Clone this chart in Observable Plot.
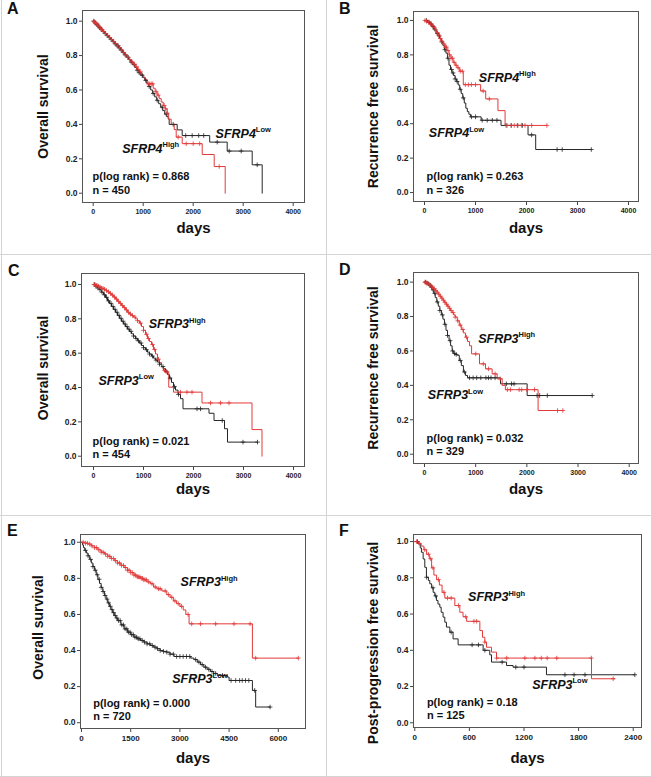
<!DOCTYPE html>
<html><head><meta charset="utf-8">
<script src="https://cdn.jsdelivr.net/npm/d3@7"></script>
<script src="https://cdn.jsdelivr.net/npm/@observablehq/plot@0.6"></script>
<style>
html,body{margin:0;padding:0;background:#fff;}
#fig{position:relative;width:652px;height:777px;font-family:"Liberation Sans",Arial,sans-serif;overflow:hidden;background:#fff;}
.panel{position:absolute;}
.letter{position:absolute;font-weight:bold;font-size:16px;line-height:1;color:#111;}
.rule{position:absolute;background:#d4d4d4;}
</style></head><body><div id="fig"></div>
<script>
// ---------- DATA ----------
const yTicks = [0, 0.2, 0.4, 0.6, 0.8, 1.0];
const xTicksAD = [0, 1000, 2000, 3000, 4000];
const xTicksE = [0, 1500, 3000, 4500, 6000];
const xTicksF = [0, 600, 1200, 1800, 2400];
const panelLetters = ["A", "B", "C", "D", "E", "F"];
const yTitles = ["Overall survival", "Recurrence free survival", "Overall survival", "Recurrence free survival", "Overall survival", "Post-progression free survival"];
const genes = ["SFRP4", "SFRP4", "SFRP3", "SFRP3", "SFRP3", "SFRP3"];
const pValues = ["0.868", "0.263", "0.021", "0.032", "0.000", "0.18"];
const nValues = [450, 326, 454, 329, 720, 125];

// Panel A
const aLowT = [0,30,60,90,120,150,190,230,270,310,350,390,430,470,510,550,590,630,670,710,750,790,830,870,910,950,990,1030,1070,1110,1150,1190,1230,1270,1310,1350,1390,1430,1470,1500,1520,1680,1780,2330,2680,3180,3380];
const aLowS = [1.0,0.99,0.982,0.972,0.962,0.953,0.94,0.928,0.916,0.905,0.893,0.882,0.868,0.857,0.845,0.832,0.818,0.804,0.79,0.776,0.762,0.747,0.731,0.715,0.70,0.686,0.672,0.656,0.64,0.62,0.60,0.58,0.56,0.54,0.52,0.50,0.48,0.46,0.445,0.432,0.40,0.368,0.335,0.297,0.245,0.165,0.0];
const aLowC = [15,40,70,100,130,160,200,240,280,320,360,400,440,480,500,520,560,600,640,700,760,820,880,920,980,1050,1120,1200,1280,1380,1460,1600,1850,1980,2110,2210,2480,2720,2960,3280];
const aHighT = [0,25,50,80,110,140,170,200,240,280,320,360,400,440,480,520,560,600,640,680,720,760,800,840,880,920,960,1000,1040,1080,1200,1240,1280,1320,1360,1400,1440,1480,1510,1560,1620,1660,1780,2180,2420,2640];
const aHighS = [1.0,0.993,0.985,0.977,0.968,0.958,0.95,0.94,0.928,0.917,0.905,0.893,0.881,0.869,0.857,0.845,0.832,0.818,0.804,0.79,0.777,0.763,0.75,0.735,0.72,0.705,0.69,0.675,0.66,0.636,0.61,0.59,0.57,0.55,0.53,0.51,0.49,0.465,0.43,0.40,0.37,0.326,0.288,0.225,0.155,0.0];
const aHighC = [10,30,55,75,95,120,150,180,210,250,290,330,370,410,450,490,530,570,610,650,690,730,780,830,870,900,950,1100,1130,1160,1190,1260,1300,1420,1450,1480,1700,1860,2000,2130,2520];

// Panel B
const bLowT = [0,60,110,150,180,210,240,270,300,330,360,390,420,450,480,510,540,570,600,630,660,690,720,750,780,810,840,870,900,1110,1500,2030,2180,3270];
const bLowS = [1.0,0.99,0.98,0.965,0.95,0.94,0.925,0.91,0.895,0.875,0.855,0.83,0.81,0.78,0.74,0.715,0.695,0.68,0.66,0.645,0.625,0.60,0.575,0.55,0.52,0.49,0.47,0.455,0.44,0.42,0.39,0.335,0.25,0.25];
const bLowC = [40,90,130,170,200,250,290,340,400,460,530,560,600,640,700,760,920,1000,1130,1230,1330,1420,1600,1700,1820,1920,2100,2600,2700,3270];
const bHighT = [0,30,60,100,140,170,200,230,260,290,320,360,400,440,480,520,560,600,640,690,760,1100,1200,1440,1580,2400];
const bHighS = [1.0,0.995,0.99,0.98,0.97,0.96,0.945,0.93,0.915,0.895,0.88,0.864,0.845,0.825,0.80,0.78,0.757,0.74,0.725,0.705,0.627,0.59,0.544,0.476,0.39,0.39];
const bHighC = [10,40,80,120,150,190,220,250,280,310,340,380,410,430,460,490,520,550,580,620,660,700,740,800,860,920,1000,1150,1270,1620,1700,1760,1830,1900,1970,2100,2400];

// Panel C
const cLowT = [0,40,80,120,160,200,240,280,320,360,400,440,480,520,560,600,640,680,720,760,800,840,880,920,960,1000,1040,1080,1120,1160,1200,1240,1280,1320,1360,1400,1440,1480,1520,1560,1600,1640,1690,1740,1790,2310,2410,2620,2680,3280];
const cLowS = [1.0,0.99,0.98,0.97,0.955,0.94,0.925,0.905,0.89,0.872,0.855,0.838,0.82,0.803,0.786,0.77,0.755,0.74,0.727,0.713,0.70,0.686,0.672,0.659,0.645,0.632,0.62,0.606,0.595,0.583,0.571,0.56,0.548,0.536,0.522,0.51,0.495,0.475,0.455,0.43,0.405,0.385,0.36,0.335,0.276,0.25,0.208,0.16,0.082,0.082];
const cLowC = [20,50,90,130,170,220,260,300,350,390,430,470,510,550,590,630,670,710,750,800,850,900,950,1000,1060,1120,1180,1250,1320,1390,1450,1530,1620,1700,2070,2140,2575,2990,3280];
const cHighT = [0,40,80,120,160,200,240,280,320,360,400,440,480,520,560,600,640,680,720,760,800,840,880,920,960,1000,1040,1080,1120,1160,1200,1240,1280,1320,1360,1400,1440,1505,1600,2170,3170,3370];
const cHighS = [1.0,0.995,0.99,0.985,0.978,0.972,0.965,0.957,0.948,0.938,0.927,0.915,0.902,0.89,0.877,0.865,0.852,0.838,0.828,0.819,0.81,0.80,0.789,0.775,0.755,0.733,0.71,0.685,0.668,0.65,0.622,0.595,0.565,0.545,0.52,0.50,0.49,0.402,0.373,0.31,0.155,0.0];
const cHighC = [10,30,50,70,100,130,160,190,220,260,300,340,380,420,460,500,540,580,620,660,700,740,780,830,880,940,1000,1060,1100,1180,1220,1300,1420,1470,1740,1870,1970,2340,2540,2710];

// Panel D
const dLowT = [0,30,60,90,120,150,180,210,240,270,300,330,360,390,420,450,480,510,540,570,600,640,680,720,760,800,840,1485,2006,3277];
const dLowS = [1.0,0.995,0.99,0.982,0.97,0.955,0.935,0.91,0.885,0.86,0.835,0.81,0.785,0.755,0.72,0.69,0.66,0.63,0.60,0.585,0.58,0.575,0.545,0.515,0.478,0.458,0.444,0.409,0.341,0.341];
const dLowC = [20,50,80,110,140,170,200,250,300,350,400,450,500,550,590,620,700,780,880,950,1020,1100,1200,1250,1300,1380,1600,1700,1750,2200,2250,2400,3277];
const dHighT = [0,30,60,90,120,150,180,210,240,270,300,330,360,390,420,450,480,510,540,570,600,640,680,720,760,800,840,880,920,1075,1192,1322,1420,1518,1580,2220,2704];
const dHighS = [1.0,0.995,0.99,0.985,0.978,0.97,0.962,0.952,0.942,0.93,0.918,0.907,0.895,0.883,0.872,0.86,0.848,0.835,0.823,0.81,0.797,0.775,0.75,0.725,0.705,0.68,0.655,0.63,0.583,0.525,0.496,0.467,0.438,0.40,0.375,0.254,0.254];
const dHighC = [10,40,70,100,130,160,190,220,250,280,310,340,370,400,430,460,490,520,560,600,650,700,750,820,1000,1150,1250,1380,1480,1620,1680,1850,1900,2000,2150,2600,2704];

// Panel E
const eLowT = [0,30,60,100,150,200,250,300,350,400,450,500,550,600,650,700,750,800,850,900,950,1000,1050,1100,1200,1300,1400,1500,1600,1700,1800,1900,2000,2100,2200,2300,2400,2500,2600,2700,2820,3330,3430,3530,3630,3730,3830,3930,4030,4140,4450,4500,5210,5310,5750];
const eLowS = [1.0,0.985,0.97,0.955,0.94,0.925,0.905,0.885,0.865,0.845,0.82,0.795,0.772,0.75,0.727,0.705,0.685,0.664,0.645,0.627,0.61,0.594,0.58,0.566,0.542,0.52,0.502,0.488,0.474,0.465,0.456,0.447,0.437,0.428,0.419,0.41,0.40,0.395,0.391,0.38,0.367,0.358,0.35,0.336,0.322,0.308,0.296,0.284,0.273,0.262,0.253,0.234,0.179,0.087,0.087];
const eLowC = [120,200,280,350,420,480,540,600,660,720,780,830,880,930,980,1030,1080,1130,1180,1230,1280,1330,1380,1430,1480,1530,1580,1630,1680,1730,1780,1850,1920,2000,2080,2160,2240,2320,2400,2500,2600,2700,2800,2900,3000,3100,3200,3300,3480,3580,3680,3780,3880,3980,4090,4300,4560,4700,4820,4900,5000,5100,5280,5750];
const eHighT = [0,100,200,300,400,500,600,700,800,900,1000,1100,1200,1300,1400,1500,1600,1700,1800,1900,2000,2100,2200,2300,2450,2600,2700,2800,2900,3000,3100,3180,3280,5210,6610];
const eHighS = [1.0,0.995,0.99,0.98,0.97,0.958,0.945,0.935,0.922,0.91,0.898,0.885,0.872,0.86,0.845,0.832,0.818,0.808,0.80,0.792,0.78,0.77,0.752,0.742,0.73,0.71,0.695,0.675,0.66,0.645,0.625,0.60,0.548,0.358,0.358];
const eHighC = [50,120,180,250,320,400,460,530,600,660,730,800,860,920,980,1040,1100,1160,1220,1280,1340,1400,1450,1500,1550,1600,1650,1700,1740,1780,1820,1860,1900,1940,1980,2050,2150,2250,2350,2400,2550,2650,2750,2850,2950,3050,3250,3360,3630,4090,4650,5140,5310,6610];

// Panel F
const fLowT = [0,37,60,73,92,110,128,150,165,185,202,220,238,255,275,290,311,330,348,385,421,476,751,824,843,1008,1080,1447,2418];
const fLowS = [1.0,0.987,0.965,0.941,0.904,0.858,0.803,0.785,0.767,0.745,0.72,0.70,0.675,0.655,0.638,0.61,0.583,0.555,0.528,0.50,0.463,0.43,0.40,0.375,0.335,0.316,0.307,0.265,0.265];
const fLowC = [30,130,200,230,400,630,700,770,960,1110,1200,1650,1750,1870,2418];
const fHighT = [0,40,70,100,130,160,185,210,240,270,300,330,440,495,530,570,715,744,770,788,843,898,1942,2200];
const fHighS = [1.0,0.99,0.975,0.955,0.93,0.905,0.855,0.815,0.79,0.76,0.72,0.688,0.647,0.61,0.585,0.56,0.509,0.472,0.445,0.417,0.39,0.357,0.243,0.243];
const fHighC = [20,50,110,150,175,200,260,320,360,400,480,560,650,680,770,900,1010,1210,1320,1390,1455,1560,1940,2180];

// ---------- LAYOUT ----------
const FONT = '"Liberation Sans", Arial, sans-serif';
const RED = "#e23a3a", BLACK = "#262626";
const panels = [
  {left:0, top:0, h:254, m:[82,22,10,52], xd:[-214,4226], yd:[-0.054,1.062], xt:xTicksAD, xfs:7,
   low:[aLowT,aLowS,aLowC], high:[aHighT,aHighS,aHighC],
   labels:[{x:2447,y:0.322,sup:"Low"},{x:580,y:0.234,sup:"High"}],
   yt:{dx:-39,dy:0}, xtDy:30, ann:{dx:10,dy:-9}, letter:[7,1]},
  {left:326, top:0, h:254, m:[87,14,11,53], xd:[-216,4196], yd:[-0.052,1.052], xt:xTicksAD, xfs:7,
   low:[bLowT,bLowS,bLowC], high:[bHighT,bHighS,bHighC],
   labels:[{x:1065,y:0.645,sup:"High"},{x:85,y:0.32,sup:"Low"}],
   yt:{dx:-40,dy:0}, xtDy:31, ann:{dx:13,dy:-8}, letter:[13,1]},
  {left:0, top:254, h:261, m:[81,22,19,49], xd:[-240,4220], yd:[-0.06,1.064], xt:xTicksAD, xfs:7,
   low:[cLowT,cLowS,cLowC], high:[cHighT,cHighS,cHighC],
   labels:[{x:1104,y:0.746,sup:"High"},{x:100,y:0.416,sup:"Low"}],
   yt:{dx:-38,dy:-2}, xtDy:27, ann:{dx:11,dy:-8.5}, letter:[8,9]},
  {left:326, top:254, h:261, m:[87,14,18,52], xd:[-215,4182], yd:[-0.054,1.056], xt:xTicksAD, xfs:7,
   low:[dLowT,dLowS,dLowC], high:[dHighT,dHighS,dHighC],
   labels:[{x:1049,y:0.647,sup:"High"},{x:65,y:0.318,sup:"Low"}],
   yt:{dx:-40,dy:0}, xtDy:30.5, ann:{dx:13,dy:-8.3}, letter:[13,8]},
  {left:0, top:515, h:262, m:[80,21,19,49], xd:[-30,6829], yd:[-0.032,1.043], xt:xTicksE, xfs:8,
   low:[eLowT,eLowS,eLowC], high:[eHighT,eHighS,eHighC],
   labels:[{x:3021,y:0.755,sup:"High"},{x:2767,y:0.22,sup:"Low"}],
   yt:{dx:-41.7,dy:-4}, xtDy:34, ann:{dx:12.7,dy:-8.3}, letter:[7,8]},
  {left:326, top:515, h:262, m:[87,11,19,50], xd:[-14,2491], yd:[-0.026,1.039], xt:xTicksF, xfs:8,
   low:[fLowT,fLowS,fLowC], high:[fHighT,fHighS,fHighC],
   labels:[{x:586,y:0.671,sup:"High"},{x:1290,y:0.1875,sup:"Low"}],
   yt:{dx:-40.3,dy:12}, xtDy:35, ann:{dx:13.4,dy:-8.3}, letter:[13,8]}
];

function km(T, S) { return T.map((t, i) => ({t, s: S[i]})); }
function survAt(T, S, t) { let s = S[0]; for (let i = 0; i < T.length; i++) { if (T[i] <= t) s = S[i]; else break; } return s; }
function cens(T, S, C) { return C.map(t => ({t, s: survAt(T, S, t)})); }

const fig = document.getElementById("fig");
const NS = "http://www.w3.org/2000/svg";

panels.forEach((p, i) => {
  const [lT, lS, lC] = p.low, [hT, hS, hC] = p.high;
  const gene = genes[i];
  const chart = Plot.plot({
    width: 326, height: p.h,
    marginLeft: p.m[0], marginRight: p.m[1], marginTop: p.m[2], marginBottom: p.m[3],
    style: {fontFamily: FONT, fontWeight: "bold", background: "transparent", color: "#111", overflow: "visible"},
    x: {domain: p.xd},
    y: {domain: p.yd},
    marks: [
      Plot.axisY({ticks: yTicks, tickFormat: d => d.toFixed(1), tickSize: 3, tickPadding: 2, fontSize: 8.5, label: null, stroke: "#444", fill: "#222"}),
      Plot.axisX({ticks: p.xt, tickFormat: d => String(d), tickSize: 4, tickPadding: 3, fontSize: p.xfs, label: null, stroke: "#444", fill: "#222"}),
      Plot.line(km(lT, lS), {x: "t", y: "s", curve: "step-after", stroke: BLACK, strokeWidth: 1}),
      Plot.line(km(hT, hS), {x: "t", y: "s", curve: "step-after", stroke: RED, strokeWidth: 1}),
      Plot.dot(cens(lT, lS, lC), {x: "t", y: "s", symbol: "plus", r: 1.6, stroke: BLACK, strokeWidth: 0.8}),
      Plot.dot(cens(hT, hS, hC), {x: "t", y: "s", symbol: "plus", r: 1.6, stroke: RED, strokeWidth: 0.8}),
      Plot.frame({stroke: "#555", strokeWidth: 1}),
      Plot.text([yTitles[i]], {frameAnchor: "left", rotate: -90, dx: p.yt.dx, dy: p.yt.dy, fontSize: 14, lineAnchor: "middle", textAnchor: "middle"}),
      Plot.text(["days"], {frameAnchor: "bottom", lineAnchor: "bottom", dy: p.xtDy, fontSize: 15}),
      Plot.text([`p(log rank) = ${pValues[i]}\nn = ${nValues[i]}`], {frameAnchor: "bottom-left", textAnchor: "start", lineAnchor: "bottom", dx: p.ann.dx, dy: p.ann.dy, fontSize: 11, lineHeight: 1.21}),
      Plot.text(p.labels, {x: "x", y: "y", text: d => gene + "^" + d.sup, textAnchor: "start", lineAnchor: "bottom", fontSize: 12.5, fontStyle: "italic"})
    ]
  });
  // superscripts
  chart.querySelectorAll("text").forEach(t => {
    const s = t.textContent;
    if (s.includes("^") && t.children.length === 0) {
      const [a, b] = s.split("^");
      t.textContent = "";
      const t1 = document.createElementNS(NS, "tspan");
      t1.textContent = a;
      const t2 = document.createElementNS(NS, "tspan");
      t2.textContent = b;
      t2.setAttribute("font-size", "7.5");
      t2.setAttribute("font-style", "normal");
      t2.setAttribute("dy", "-5.5");
      t.append(t1, t2);
    }
  });
  const div = document.createElement("div");
  div.className = "panel";
  div.style.left = p.left + "px";
  div.style.top = p.top + "px";
  div.appendChild(chart);
  fig.appendChild(div);
  const L = document.createElement("div");
  L.className = "letter";
  L.textContent = panelLetters[i];
  L.style.left = (p.left + p.letter[0]) + "px";
  L.style.top = (p.top + p.letter[1]) + "px";
  fig.appendChild(L);
});

// divider rules
[[1,0,1,777],[651,0,1,777],[326,0,1,777],[0,254,652,1],[0,515,652,1],[0,776,652,1]].forEach(([x,y,w,h]) => {
  const r = document.createElement("div");
  r.className = "rule";
  r.style.left = x + "px"; r.style.top = y + "px"; r.style.width = w + "px"; r.style.height = h + "px";
  fig.appendChild(r);
});
</script></body></html>
